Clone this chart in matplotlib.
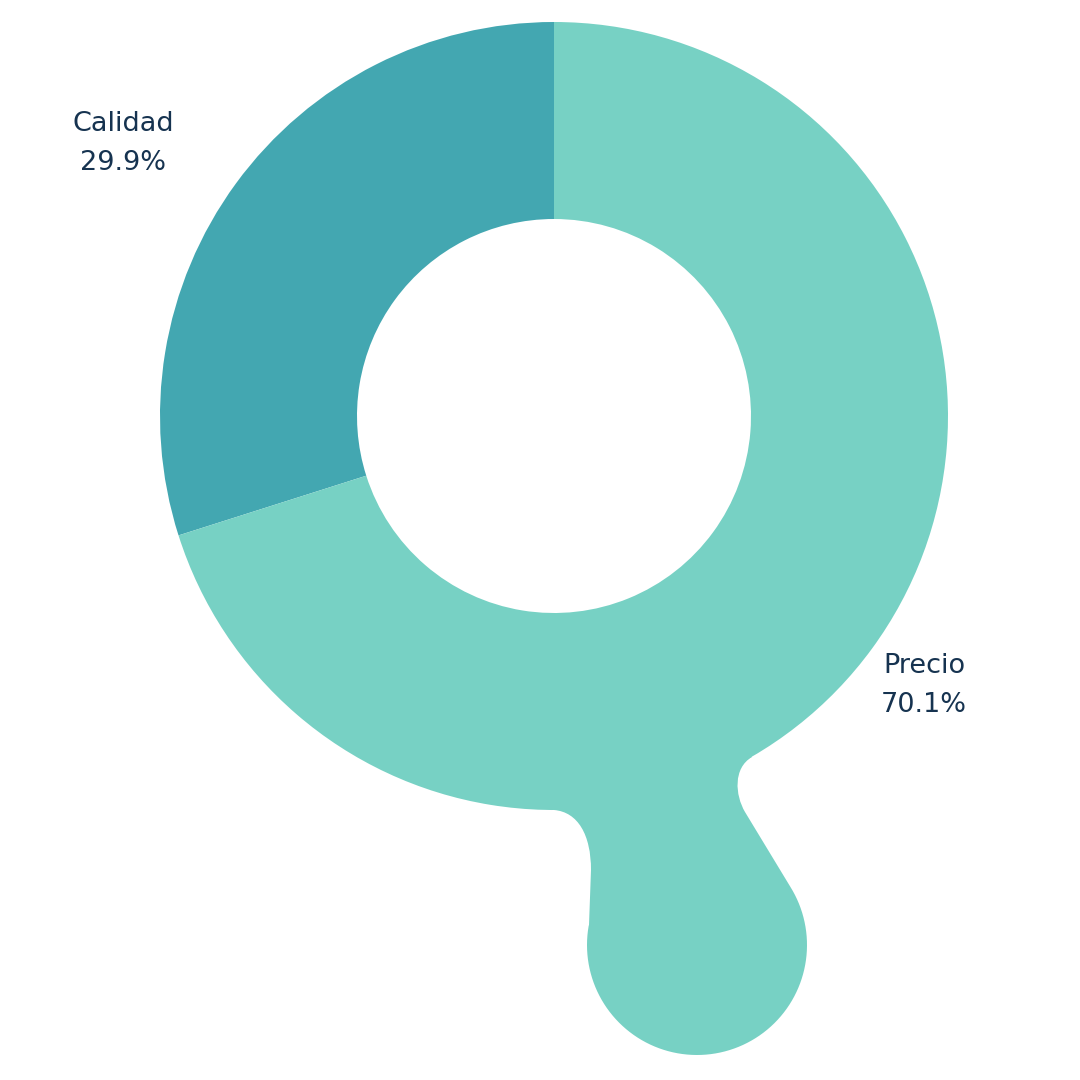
import numpy as np
import matplotlib
matplotlib.use("Agg")
import matplotlib.pyplot as plt
from matplotlib.path import Path
from matplotlib.patches import PathPatch

# Data
categories = ["Calidad", "Precio"]
values = [29.9, 70.1]
colors = ["#43A7B1", "#77D1C4"]
text_color = "#163350"

plt.rcParams['font.family'] = ['DejaVu Sans']

fig = plt.figure(figsize=(10.8, 10.8), dpi=100)
ax = fig.add_axes([0, 0, 1, 1])
S = 394.0
def px(x, y):
    return ((x - 554) / S, -(y - 416) / S)

wedges, _ = ax.pie(values, colors=colors, startangle=90, counterclock=True,
                   radius=1.0, center=(0, 0),
                   wedgeprops=dict(width=0.5, linewidth=0, edgecolor='none'))

ax.set_xlim(-554 / S, 526 / S)
ax.set_ylim(-664 / S, 416 / S)
ax.set_aspect('equal')
ax.axis('off')

# decorative tail (same colour as Precio slice)
verts = []
codes = []
def add(p, c):
    verts.append(px(*p)); codes.append(c)
add((554, 810), Path.MOVETO)
add((578, 812), Path.CURVE4); add((591, 835), Path.CURVE4); add((591, 870), Path.CURVE4)
add((589, 925), Path.LINETO)
cx, cy = px(697, 945)
r = 110 / S
for a in np.linspace(np.radians(170), np.radians(392), 90):
    verts.append((cx + r * np.cos(a), cy + r * np.sin(a))); codes.append(Path.LINETO)
add((745, 812), Path.LINETO)
add((735, 795), Path.CURVE4); add((733, 768), Path.CURVE4); add((752, 757), Path.CURVE4)
add((700, 700), Path.LINETO)
add((554, 760), Path.LINETO)
add((554, 810), Path.CLOSEPOLY)
tail = PathPatch(Path(verts, codes), facecolor=colors[1], edgecolor='none', linewidth=0, zorder=3)
ax.add_patch(tail)

label_pos = [px(123, 144), px(924, 686)]
for cat, val, (lx, ly) in zip(categories, values, label_pos):
    ax.text(lx, ly, f"{cat}\n{val:.1f}%", ha='center', va='center', fontsize=19.5,
            color=text_color, linespacing=1.65, zorder=5)

fig.savefig("out.png", dpi=100)
